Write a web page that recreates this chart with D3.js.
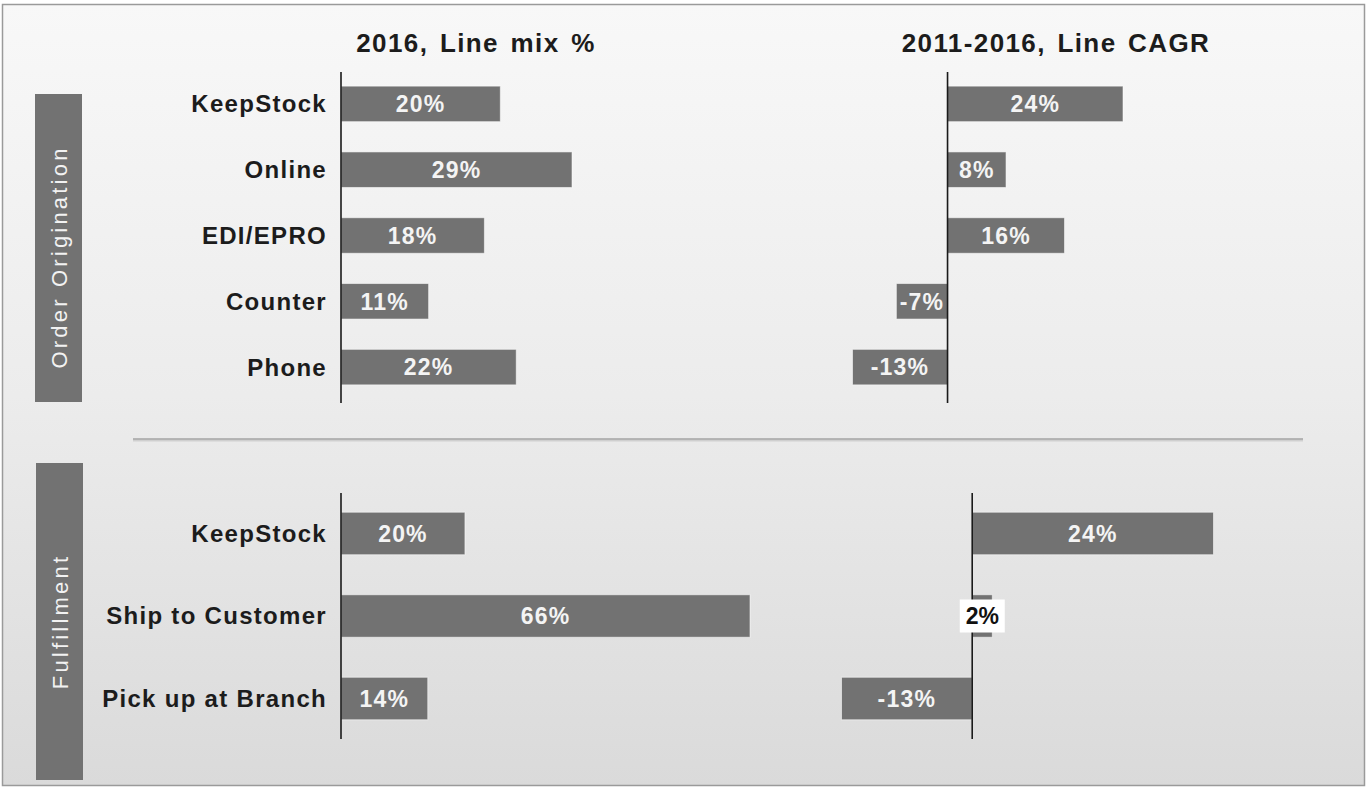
<!DOCTYPE html>
<html>
<head>
<meta charset="utf-8">
<script src="https://cdn.jsdelivr.net/npm/d3@7"></script>
<style>
  html, body { margin: 0; padding: 0; background: #ffffff; }
  svg { display: block; font-family: "Liberation Sans", Arial, Helvetica, sans-serif; }
</style>
</head>
<body>
<svg id="chart" width="1367" height="788"></svg>
<script>
// ---------- data ----------
const titles = ["2016, Line mix %", "2011-2016, Line CAGR"];
const sectionNames = ["Order Origination", "Fulfillment"];

const originCategories = ["KeepStock", "Online", "EDI/EPRO", "Counter", "Phone"];
const originMix = [20, 29, 18, 11, 22];
const originCagr = [24, 8, 16, -7, -13];

const fulfillCategories = ["KeepStock", "Ship to Customer", "Pick up at Branch"];
const fulfillMix = [20, 66, 14];
const fulfillCagr = [24, 2, -13];

// ---------- setup ----------
const svg = d3.select("#chart");

const defs = svg.append("defs");
const bg = defs.append("linearGradient").attr("id", "bg").attr("x1", 0).attr("y1", 0).attr("x2", 0).attr("y2", 1);
bg.append("stop").attr("offset", "0%").attr("stop-color", "#f8f8f8");
bg.append("stop").attr("offset", "50%").attr("stop-color", "#ececec");
bg.append("stop").attr("offset", "100%").attr("stop-color", "#dadada");

svg.append("rect").attr("x", 2.5).attr("y", 4.5).attr("width", 1362).attr("height", 781)
  .attr("fill", "url(#bg)").attr("stroke", "#9a9a9a").attr("stroke-width", 1.5);

const barColor = "#727272";
const textDark = "#1c1c1c";

// titles
const titleX = [476, 1056];
svg.selectAll("text.title").data(titles).join("text")
  .attr("class", "title")
  .attr("x", (d, i) => titleX[i]).attr("y", 52)
  .attr("text-anchor", "middle")
  .attr("font-size", 26).attr("font-weight", "bold")
  .attr("letter-spacing", 1.4).attr("word-spacing", 3)
  .attr("fill", textDark)
  .text(d => d);

// separator
svg.append("line").attr("x1", 133).attr("x2", 1303).attr("y1", 440.5).attr("y2", 440.5)
  .attr("stroke", "#cfcfcf").attr("stroke-width", 2);
svg.append("line").attr("x1", 133).attr("x2", 1303).attr("y1", 439).attr("y2", 439)
  .attr("stroke", "#a3a3a3").attr("stroke-width", 1.5);

// section boxes
const boxes = [{x: 35, y: 94, w: 47, h: 308}, {x: 36, y: 463, w: 47, h: 317}];
boxes.forEach((b, i) => {
  svg.append("rect").attr("x", b.x).attr("y", b.y).attr("width", b.w).attr("height", b.h)
    .attr("fill", barColor);
  const cx = b.x + b.w / 2, cy = b.y + b.h / 2 + (i === 0 ? 9 : 0);
  svg.append("text")
    .attr("transform", `translate(${cx + 8},${cy}) rotate(-90)`)
    .attr("text-anchor", "middle")
    .attr("font-size", 22).attr("letter-spacing", 3.2)
    .attr("fill", "#f2f2f2")
    .text(sectionNames[i]);
});

function drawPanel(cfg) {
  const g = svg.append("g");
  const y = d3.scaleBand().domain(cfg.categories).range(cfg.yRange)
    .paddingInner(cfg.pi).paddingOuter(cfg.po);
  const x = d3.scaleLinear().domain(cfg.xDomain).range(cfg.xRange);
  const data = cfg.categories.map((c, i) => ({cat: c, v: cfg.values[i]}));

  g.selectAll("rect.bar").data(data).join("rect")
    .attr("class", "bar")
    .attr("x", d => Math.min(x(0), x(d.v)))
    .attr("y", d => y(d.cat))
    .attr("width", d => Math.abs(x(d.v) - x(0)))
    .attr("height", y.bandwidth())
    .attr("fill", barColor)
    .attr("stroke", "#ffffff").attr("stroke-opacity", 0.55).attr("stroke-width", 1);

  // axis line
  g.append("line")
    .attr("x1", x(0)).attr("x2", x(0))
    .attr("y1", cfg.axisY[0]).attr("y2", cfg.axisY[1])
    .attr("stroke", "#1a1a1a").attr("stroke-width", 1.6);

  // value labels
  data.forEach(d => {
    const w = Math.abs(x(d.v) - x(0));
    const cx = (x(0) + x(d.v)) / 2;
    const cy = y(d.cat) + y.bandwidth() / 2;
    const label = d.v + "%";
    if (w < 30) {
      g.append("rect").attr("x", cx - 22.5).attr("y", cy - 16.5).attr("width", 45).attr("height", 33)
        .attr("fill", "#ffffff");
      g.append("text").attr("x", cx).attr("y", cy).attr("dy", "0.36em")
        .attr("text-anchor", "middle").attr("font-size", 23).attr("font-weight", "bold")
        .attr("fill", "#111").text(label);
    } else {
      g.append("text").attr("x", cx).attr("y", cy).attr("dy", "0.36em")
        .attr("text-anchor", "middle").attr("font-size", 23).attr("font-weight", "bold")
        .attr("letter-spacing", 1.2)
        .attr("fill", "#f4f4f4").text(label);
    }
  });

  if (cfg.showCats) {
    g.selectAll("text.cat").data(data).join("text")
      .attr("class", "cat")
      .attr("x", 327).attr("y", d => y(d.cat) + y.bandwidth() / 2).attr("dy", "0.35em")
      .attr("text-anchor", "end")
      .attr("font-size", 24).attr("font-weight", "bold").attr("letter-spacing", 1.3)
      .attr("fill", textDark)
      .text(d => d.cat);
  }
}

// top panels
drawPanel({categories: originCategories, values: originMix, yRange: [71, 400], pi: 0.46, po: 0.23,
  xDomain: [0, 29], xRange: [341, 572], axisY: [72, 403], showCats: true});
drawPanel({categories: originCategories, values: originCagr, yRange: [71, 400], pi: 0.46, po: 0.23,
  xDomain: [-13, 24], xRange: [852.5, 1123], axisY: [72, 403], showCats: false});

// bottom panels
drawPanel({categories: fulfillCategories, values: fulfillMix, yRange: [493, 739], pi: 0.485, po: 0.233,
  xDomain: [0, 66], xRange: [341, 750], axisY: [493, 739], showCats: true});
drawPanel({categories: fulfillCategories, values: fulfillCagr, yRange: [493, 739], pi: 0.485, po: 0.233,
  xDomain: [-13, 24], xRange: [841.5, 1213.5], axisY: [493, 739], showCats: false});
</script>
</body>
</html>
